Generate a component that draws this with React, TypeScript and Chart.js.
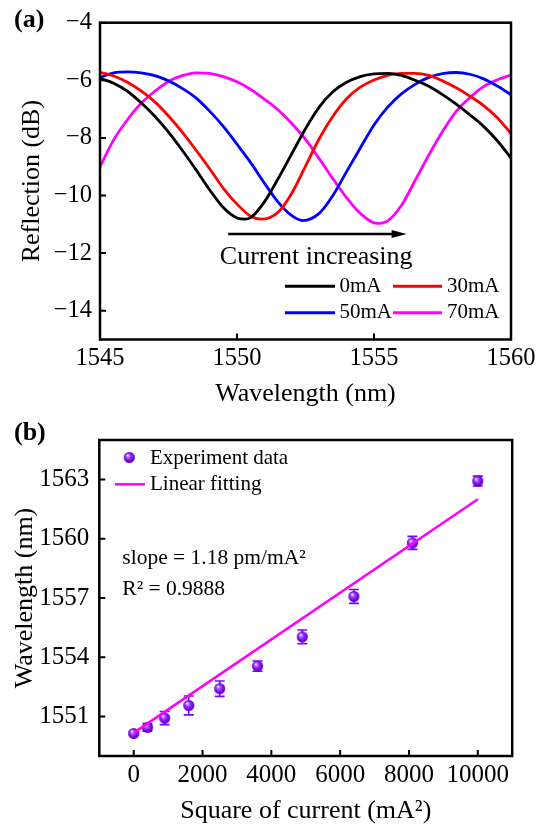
import React, { useEffect, useRef } from 'react';
import { Chart, registerables } from 'chart.js';
Chart.register(...registerables);

const serif = "'Liberation Serif', 'Times New Roman', Times, serif";

// ---------- (a) reflection spectra ----------
const seriesLabelsA = ['0mA', '30mA', '50mA', '70mA'];
const seriesColorsA = ['#000000', '#FF0000', '#0000FF', '#FF00FF'];

const wl0 = [1545, 1545.5, 1546, 1546.5, 1547, 1547.5, 1548, 1548.5, 1549, 1549.5, 1550, 1550.3, 1550.5, 1551, 1551.5, 1552, 1552.5, 1553, 1553.5, 1554, 1554.5, 1555, 1555.5, 1556, 1556.5, 1557, 1557.5, 1558, 1558.5, 1559, 1559.5, 1560];
const r0 = [-5.93, -6.10, -6.38, -6.78, -7.25, -7.80, -8.43, -9.10, -9.80, -10.42, -10.78, -10.82, -10.77, -10.22, -9.42, -8.55, -7.68, -6.93, -6.40, -6.07, -5.87, -5.78, -5.76, -5.83, -6.00, -6.21, -6.50, -6.83, -7.20, -7.60, -8.10, -8.70];

const wl30 = [1545, 1545.5, 1546, 1546.5, 1547, 1547.5, 1548, 1548.5, 1549, 1549.5, 1550, 1550.5, 1550.9, 1551.5, 1552, 1552.5, 1553, 1553.5, 1554, 1554.5, 1555, 1555.5, 1556, 1556.5, 1557, 1557.5, 1558, 1558.5, 1559, 1559.5, 1560];
const r30 = [-5.72, -5.85, -6.07, -6.37, -6.75, -7.24, -7.80, -8.42, -9.07, -9.75, -10.30, -10.72, -10.82, -10.58, -9.92, -8.98, -8.03, -7.25, -6.64, -6.24, -5.99, -5.83, -5.76, -5.76, -5.83, -6.02, -6.26, -6.55, -6.88, -7.30, -7.85];

const wl50 = [1545, 1545.5, 1546, 1546.5, 1547, 1547.5, 1548, 1548.5, 1549, 1549.5, 1550, 1550.5, 1551, 1551.5, 1552, 1552.4, 1553, 1553.5, 1554, 1554.5, 1555, 1555.5, 1556, 1556.5, 1557, 1557.5, 1558, 1558.5, 1559, 1559.5, 1560];
const r50 = [-5.90, -5.74, -5.71, -5.74, -5.84, -6.02, -6.28, -6.61, -7.07, -7.60, -8.22, -8.86, -9.57, -10.23, -10.70, -10.87, -10.62, -10.00, -9.17, -8.35, -7.55, -6.93, -6.47, -6.14, -5.90, -5.77, -5.73, -5.79, -5.95, -6.20, -6.50];

const wl70 = [1545, 1545.5, 1546, 1546.5, 1547, 1547.5, 1548, 1548.5, 1549, 1549.5, 1550, 1550.5, 1551, 1551.5, 1552, 1552.5, 1553, 1553.5, 1554, 1554.5, 1555.1, 1555.5, 1556, 1556.5, 1557, 1557.5, 1558, 1558.5, 1559, 1559.5, 1560];
const r70 = [-9.00, -8.07, -7.37, -6.80, -6.38, -6.04, -5.84, -5.74, -5.76, -5.87, -6.05, -6.32, -6.66, -7.03, -7.50, -8.05, -8.72, -9.42, -10.08, -10.62, -10.97, -10.88, -10.35, -9.48, -8.60, -7.78, -7.08, -6.60, -6.22, -5.98, -5.82];

const xTicksA = [1545, 1550, 1555, 1560];
const yTicksA = [-14, -12, -10, -8, -6, -4];

// ---------- (b) peak wavelength vs square of current ----------
const currentSq = [0, 400, 900, 1600, 2500, 3600, 4900, 6400, 8100, 10000];
const peakWl = [1550.14, 1550.45, 1550.92, 1551.56, 1552.41, 1553.55, 1555.03, 1557.08, 1559.79, 1562.92];
const peakErr = [0.08, 0.19, 0.33, 0.48, 0.39, 0.26, 0.35, 0.35, 0.33, 0.25];
const fitX = [0, 10000];
const fitY = [1550.17, 1562.0];
const xTicksB = [0, 2000, 4000, 6000, 8000, 10000];
const yTicksB = [1551, 1554, 1557, 1560, 1563];

const fmtMinus = (v: any) => String(v).replace('-', '\u2212');
const fmtPlain = (v: any) => String(v);

const PURPLE = '#8000FF';

function makeSphere(r: number) {
  const s = Math.ceil(r * 2) + 2;
  const c = document.createElement('canvas');
  c.width = s; c.height = s;
  const g = c.getContext('2d')!;
  const cx = s / 2, cy = s / 2;
  const grad = g.createRadialGradient(cx - r * 0.35, cy - r * 0.4, r * 0.05, cx, cy, r);
  grad.addColorStop(0, '#F4EAFF');
  grad.addColorStop(0.35, '#A04BFF');
  grad.addColorStop(0.75, '#7A00F0');
  grad.addColorStop(1, '#5200B8');
  g.fillStyle = grad;
  g.beginPath(); g.arc(cx, cy, r, 0, Math.PI * 2); g.fill();
  return c;
}

const framePlugin = {
  id: 'frame',
  afterDraw(chart: any) {
    const { ctx, chartArea: a, scales } = chart;
    ctx.save();
    ctx.strokeStyle = '#000';
    ctx.lineWidth = 2.5;
    ctx.strokeRect(a.left, a.top, a.right - a.left, a.bottom - a.top);
    ctx.lineWidth = 2;
    ctx.beginPath();
    scales.x.ticks.forEach((t: any) => {
      const p = scales.x.getPixelForValue(t.value);
      ctx.moveTo(p, a.bottom); ctx.lineTo(p, a.bottom - 6);
    });
    scales.y.ticks.forEach((t: any) => {
      const p = scales.y.getPixelForValue(t.value);
      ctx.moveTo(a.left, p); ctx.lineTo(a.left + 6, p);
    });
    ctx.stroke();
    ctx.restore();
  },
};

const legendA = {
  id: 'legendA',
  afterDraw(chart: any) {
    const ctx = chart.ctx;
    ctx.save();
    const cols = [[285, 335, 339.5], [393, 442, 447]];
    const rows = [286.3, 312.8];
    ctx.font = `21px ${serif}`;
    ctx.textBaseline = 'middle';
    ctx.textAlign = 'left';
    seriesLabelsA.forEach((label, i) => {
      const r = Math.floor(i / 2), c = i % 2;
      const [x1, x2, tx] = cols[c];
      const y = rows[r];
      ctx.strokeStyle = seriesColorsA[i];
      ctx.lineWidth = 3;
      ctx.beginPath(); ctx.moveTo(x1, y); ctx.lineTo(x2, y); ctx.stroke();
      ctx.fillStyle = '#000';
      ctx.fillText(label, tx, y);
    });
    ctx.font = `bold 26px ${serif}`;
    ctx.fillText('(a)', 14, 20.5);
    ctx.restore();
  },
};

const annotA = {
  id: 'annotA',
  afterDatasetsDraw(chart: any) {
    const { ctx, scales } = chart;
    const x1 = scales.x.getPixelForValue(1549.68);
    const x2 = scales.x.getPixelForValue(1556.19);
    const y = scales.y.getPixelForValue(-11.34);
    ctx.save();
    ctx.strokeStyle = '#000';
    ctx.fillStyle = '#000';
    ctx.lineWidth = 2.5;
    ctx.beginPath(); ctx.moveTo(x1, y); ctx.lineTo(x2 - 12, y); ctx.stroke();
    ctx.beginPath(); ctx.moveTo(x2, y); ctx.lineTo(x2 - 15, y - 4); ctx.lineTo(x2 - 15, y + 4); ctx.closePath(); ctx.fill();
    ctx.font = `26px ${serif}`;
    ctx.textAlign = 'center';
    ctx.textBaseline = 'alphabetic';
    ctx.fillText('Current increasing', scales.x.getPixelForValue(1552.89), scales.y.getPixelForValue(-12.38));
    ctx.restore();
  },
};

function configA(): any {
  const xs = [wl0, wl30, wl50, wl70];
  const ys = [r0, r30, r50, r70];
  return {
    type: 'line',
    data: {
      datasets: seriesLabelsA.map((label, i) => ({
        label,
        data: xs[i].map((x, j) => ({ x, y: ys[i][j] })),
        borderColor: seriesColorsA[i],
        backgroundColor: seriesColorsA[i],
        borderWidth: 2.8,
        pointRadius: 0,
        cubicInterpolationMode: 'monotone',
        fill: false,
      })),
    },
    options: {
      responsive: false,
      animation: false,
      events: [],
      layout: { padding: { top: 14.5, right: 36, left: 0, bottom: 0 } },
      plugins: { legend: { display: false }, tooltip: { enabled: false } },
      scales: {
        x: {
          type: 'linear', min: 1545, max: 1560,
          afterBuildTicks: (s: any) => { s.ticks = xTicksA.map((v) => ({ value: v })); },
          afterFit: (s: any) => { s.height = 75.5; },
          grid: { display: false, drawTicks: false },
          border: { display: false },
          ticks: { font: { family: serif, size: 24.5 }, color: '#000', padding: 4, maxRotation: 0, autoSkip: false, callback: fmtPlain },
          title: { display: true, text: 'Wavelength (nm)', font: { family: serif, size: 26 }, color: '#000', padding: { top: 0, bottom: 5 } },
        },
        y: {
          type: 'linear', min: -15, max: -4,
          afterBuildTicks: (s: any) => { s.ticks = yTicksA.map((v) => ({ value: v })); },
          afterFit: (s: any) => { s.width = 100; },
          grid: { display: false, drawTicks: false },
          border: { display: false },
          ticks: { font: { family: serif, size: 24.5 }, color: '#000', padding: 8, autoSkip: false, callback: fmtMinus },
          title: { display: true, text: 'Reflection (dB)', font: { family: serif, size: 26 }, color: '#000', padding: { top: 17, bottom: 0 } },
        },
      },
    },
    plugins: [framePlugin, annotA, legendA],
  };
}

function configB(sphere: HTMLCanvasElement): any {
  const errorBars = {
    id: 'errorBars',
    beforeDatasetsDraw(chart: any) {
      const { ctx, scales } = chart;
      ctx.save();
      ctx.strokeStyle = PURPLE;
      ctx.lineWidth = 1.6;
      ctx.beginPath();
      currentSq.forEach((xv, i) => {
        const x = scales.x.getPixelForValue(xv);
        const yTop = scales.y.getPixelForValue(peakWl[i] + peakErr[i]);
        const yBot = scales.y.getPixelForValue(peakWl[i] - peakErr[i]);
        ctx.moveTo(x, yTop); ctx.lineTo(x, yBot);
        ctx.moveTo(x - 5, yTop); ctx.lineTo(x + 5, yTop);
        ctx.moveTo(x - 5, yBot); ctx.lineTo(x + 5, yBot);
      });
      ctx.stroke();
      ctx.restore();
    },
  };
  const legendB = {
    id: 'legendB',
    afterDraw(chart: any) {
      const ctx = chart.ctx;
      ctx.save();
      ctx.drawImage(sphere, 129.3 - sphere.width / 2, 42.5 - sphere.height / 2);
      ctx.strokeStyle = '#FF00FF';
      ctx.lineWidth = 2.5;
      ctx.beginPath(); ctx.moveTo(115, 69.3); ctx.lineTo(145, 69.3); ctx.stroke();
      ctx.fillStyle = '#000';
      ctx.font = `21px ${serif}`;
      ctx.textBaseline = 'middle';
      ctx.textAlign = 'left';
      ctx.fillText('Experiment data', 150, 43.5);
      ctx.fillText('Linear fitting', 150, 69.5);
      ctx.font = `21.5px ${serif}`;
      ctx.textBaseline = 'alphabetic';
      ctx.fillText('slope = 1.18 pm/mA\u00B2', 122.3, 149.3);
      ctx.fillText('R\u00B2 = 0.9888', 122.3, 180);
      ctx.font = `bold 26px ${serif}`;
      ctx.textBaseline = 'middle';
      ctx.fillText('(b)', 14, 18.5);
      ctx.restore();
    },
  };
  return {
    type: 'scatter',
    data: {
      datasets: [
        {
          label: 'Linear fitting',
          data: fitX.map((x, i) => ({ x, y: fitY[i] })),
          showLine: true,
          borderColor: '#FF00FF',
          borderWidth: 2.5,
          pointRadius: 0,
          order: 0,
        },
        {
          label: 'Experiment data',
          data: currentSq.map((x, i) => ({ x, y: peakWl[i] })),
          pointStyle: sphere,
          pointRadius: 6,
          order: 1,
        },
      ],
    },
    options: {
      responsive: false,
      animation: false,
      events: [],
      layout: { padding: { top: 15.7, right: 34.8, left: 0, bottom: 0 } },
      plugins: { legend: { display: false }, tooltip: { enabled: false } },
      scales: {
        x: {
          type: 'linear', min: -1000, max: 11000,
          afterBuildTicks: (s: any) => { s.ticks = xTicksB.map((v) => ({ value: v })); },
          afterFit: (s: any) => { s.height = 71; },
          grid: { display: false, drawTicks: false },
          border: { display: false },
          ticks: { font: { family: serif, size: 25 }, color: '#000', padding: 4, maxRotation: 0, autoSkip: false, callback: fmtPlain },
          title: { display: true, text: 'Square of current (mA\u00B2)', font: { family: serif, size: 26 }, color: '#000', padding: { top: 0, bottom: 0 } },
        },
        y: {
          type: 'linear', min: 1549, max: 1565,
          afterBuildTicks: (s: any) => { s.ticks = yTicksB.map((v) => ({ value: v })); },
          afterFit: (s: any) => { s.width = 99.3; },
          grid: { display: false, drawTicks: false },
          border: { display: false },
          ticks: { font: { family: serif, size: 25 }, color: '#000', padding: 10, autoSkip: false, callback: fmtPlain },
          title: { display: true, text: 'Wavelength (nm)', font: { family: serif, size: 26 }, color: '#000', padding: { top: 10, bottom: 0 } },
        },
      },
    },
    plugins: [framePlugin, errorBars, legendB],
  };
}

export default function App() {
  const refA = useRef<HTMLCanvasElement>(null);
  const refB = useRef<HTMLCanvasElement>(null);
  useEffect(() => {
    const sphere = makeSphere(5.5);
    const a = new Chart(refA.current!, configA());
    const b = new Chart(refB.current!, configB(sphere));
    return () => { a.destroy(); b.destroy(); };
  }, []);
  return (
    <div style={{ position: 'absolute', left: 0, top: 0, width: 547, height: 827, background: '#fff' }}>
      <canvas ref={refA} width={547} height={415} style={{ position: 'absolute', left: 0, top: 0 }} />
      <canvas ref={refB} width={547} height={412} style={{ position: 'absolute', left: 0, top: 415 }} />
    </div>
  );
}
